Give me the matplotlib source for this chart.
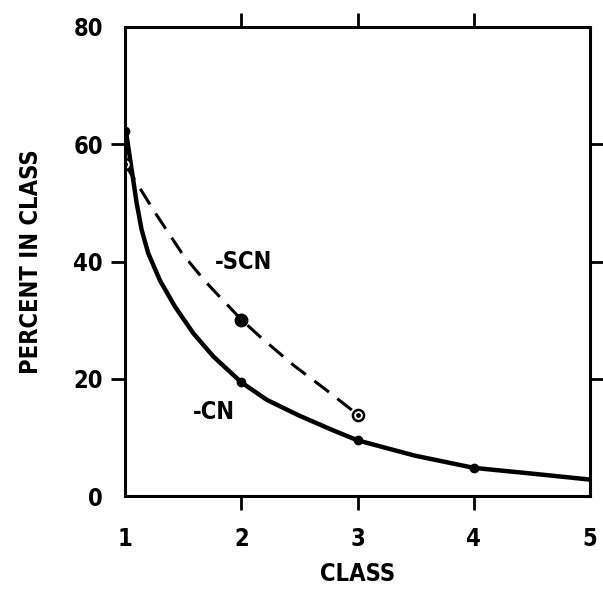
import matplotlib
matplotlib.use("Agg")
import matplotlib.pyplot as plt
from matplotlib import font_manager

# marker values
classes = [1, 2, 3, 4, 5]
cn_pts = [62.2, 19.4, 9.5, 4.8]
scn_pts = [56.6, 30.1, 13.9]

# the drawn curves
cn_curve_x = [1.0, 1.01, 1.057, 1.1, 1.143, 1.2, 1.3, 1.43, 1.59, 1.76, 2.0,
              2.22, 2.5, 2.79, 3.0, 3.49, 4.0, 4.51, 5.0]
cn_curve_y = [62.2, 62.0, 55.7, 50.0, 45.4, 41.4, 36.8, 32.3, 27.7, 23.8, 19.4,
              16.4, 13.7, 11.2, 9.5, 6.9, 4.8, 3.8, 2.8]
scn_curve_x = [1.0, 1.25, 1.49, 1.69, 2.0, 2.16, 2.45, 2.73, 3.0]
scn_curve_y = [56.6, 48.6, 41.4, 36.6, 30.1, 27.2, 22.3, 18.1, 13.9]

y_ticks = [0, 20, 40, 60, 80]

names = {f.name for f in font_manager.fontManager.ttflist}
fam = "Liberation Sans Narrow" if "Liberation Sans Narrow" in names else "DejaVu Sans"
plt.rcParams["font.family"] = [fam, "DejaVu Sans"]
plt.rcParams["font.weight"] = "bold"
plt.rcParams["font.stretch"] = "condensed"
plt.rcParams["axes.labelweight"] = "bold"

fig = plt.figure(figsize=(6.03, 5.93), dpi=100)
ax = fig.add_axes([125 / 603, 1 - 496 / 593, 465 / 603, 469 / 593])

ax.plot(cn_curve_x, cn_curve_y, color="black", lw=3.2, solid_joinstyle="round")
ax.plot(classes[:4], cn_pts, "o", color="black", ms=6)

ax.plot(scn_curve_x, scn_curve_y, color="black", lw=2.2, dashes=(6, 3.5))
ax.plot(classes[1], scn_pts[1], "o", color="black", ms=9)
ax.plot([classes[0], classes[2]], [scn_pts[0], scn_pts[2]], "o", mfc="white",
        mec="black", mew=1.8, ms=8)
ax.plot([classes[0], classes[2]], [scn_pts[0], scn_pts[2]], "o", color="black", ms=2.5)

ax.text(1.77, 39.9, "-SCN", fontsize=17, va="center", ha="left")
ax.text(1.585, 14.3, "-CN", fontsize=17, va="center", ha="left")

ax.set_xlim(1, 5)
ax.set_ylim(0, 80)
ax.set_xticks(classes)
ax.set_yticks(y_ticks)
ax.tick_params(direction="out", length=10, width=2, labelsize=17,
               top=True, right=True, labeltop=False, labelright=False)
ax.tick_params(axis="x", pad=12)
ax.tick_params(axis="y", pad=6)
for t in ax.xaxis.get_major_ticks()[::4] + ax.yaxis.get_major_ticks()[::4]:
    t.tick1line.set_visible(False)
    t.tick2line.set_visible(False)
ax.get_xticklabels()[0].set_x(1.07)
for s in ax.spines.values():
    s.set_linewidth(2.2)

ax.set_xlabel("CLASS", fontsize=17, labelpad=8)
ax.set_ylabel("PERCENT IN CLASS", fontsize=17, labelpad=22)

fig.savefig("out.png", dpi=100)
